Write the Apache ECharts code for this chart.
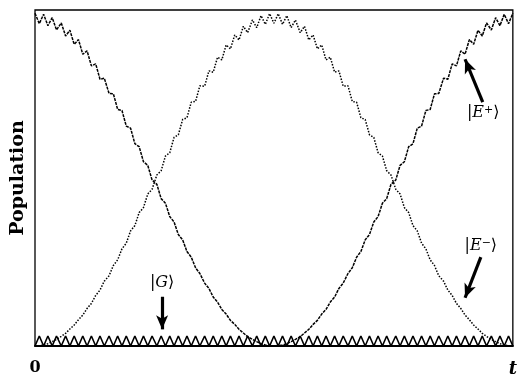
<!DOCTYPE html>
<html>
<head>
<meta charset="utf-8">
<script src="https://cdn.jsdelivr.net/npm/echarts@6/dist/echarts.min.js"></script>
<style>
html,body{margin:0;padding:0;background:#fff;}
#chart{width:520px;height:378px;}
</style>
</head>
<body>
<div id="chart"></div>
<script>
// time samples (fraction of total time)
const time = [0,0.009,0.018,0.027,0.036,0.045,0.055,0.064,0.073,0.082,0.091,0.1,0.109,0.118,0.127,0.136,0.145,0.155,0.164,0.173,0.182,0.191,0.2,0.209,0.218,0.227,0.236,0.245,0.255,0.264,0.273,0.282,0.291,0.3,0.309,0.318,0.327,0.336,0.345,0.355,0.364,0.373,0.382,0.391,0.4,0.409,0.418,0.427,0.436,0.445,0.455,0.464,0.473,0.482,0.491,0.5,0.509,0.518,0.527,0.536,0.545,0.555,0.564,0.573,0.582,0.591,0.6,0.609,0.618,0.627,0.636,0.645,0.655,0.664,0.673,0.682,0.691,0.7,0.709,0.718,0.727,0.736,0.745,0.755,0.764,0.773,0.782,0.791,0.8,0.809,0.818,0.827,0.836,0.845,0.855,0.864,0.873,0.882,0.891,0.9,0.909,0.918,0.927,0.936,0.945,0.955,0.964,0.973,0.982,0.991,1];

// |E+> population
const ePlus = [1.000,0.969,0.997,0.963,0.987,0.950,0.971,0.932,0.949,0.907,0.921,0.877,0.887,0.842,0.848,0.802,0.805,0.759,0.758,0.711,0.708,0.661,0.655,0.608,0.599,0.554,0.543,0.499,0.486,0.443,0.429,0.389,0.373,0.335,0.319,0.284,0.267,0.235,0.218,0.189,0.173,0.147,0.132,0.110,0.096,0.077,0.065,0.050,0.039,0.028,0.020,0.013,0.007,0.003,0.001,0,
0.001,0.003,0.007,0.013,0.020,0.028,0.039,0.050,0.065,0.077,0.096,0.110,0.132,0.147,0.173,0.189,0.218,0.235,0.267,0.284,0.319,0.335,0.373,0.389,0.429,0.443,0.486,0.499,0.543,0.554,0.599,0.608,0.655,0.661,0.708,0.711,0.758,0.759,0.805,0.802,0.848,0.842,0.887,0.877,0.921,0.907,0.949,0.932,0.971,0.950,0.987,0.963,0.997,0.969,1.000];

// |E-> population
const eMinus = [0,0.001,0.003,0.007,0.013,0.020,0.029,0.038,0.051,0.063,0.079,0.093,0.113,0.128,0.152,0.168,0.195,0.211,0.242,0.259,0.292,0.309,0.346,0.362,0.401,0.416,0.457,0.471,0.514,0.527,0.571,0.581,0.627,0.635,0.681,0.686,0.733,0.735,0.782,0.781,0.827,0.823,0.868,0.860,0.905,0.893,0.935,0.920,0.961,0.942,0.980,0.957,0.993,0.967,0.999,0.970,
0.999,0.967,0.993,0.957,0.980,0.942,0.961,0.920,0.935,0.893,0.905,0.860,0.868,0.823,0.827,0.781,0.782,0.735,0.733,0.686,0.681,0.635,0.627,0.581,0.571,0.527,0.514,0.471,0.457,0.416,0.401,0.362,0.346,0.309,0.292,0.259,0.242,0.211,0.195,0.168,0.152,0.128,0.113,0.093,0.079,0.063,0.051,0.038,0.029,0.020,0.013,0.007,0.003,0.001,0];

// |G> population
const gPop = [0,0.03,0,0.03,0,0.03,0,0.03,0,0.03,0,0.03,0,0.03,0,0.03,0,0.03,0,0.03,0,0.03,0,0.03,0,0.03,0,0.03,0,0.03,0,0.03,0,0.03,0,0.03,0,0.03,0,0.03,0,0.03,0,0.03,0,0.03,0,0.03,0,0.03,0,0.03,0,0.03,0,0.03,0,0.03,0,0.03,0,0.03,0,0.03,0,0.03,0,0.03,0,0.03,0,0.03,0,0.03,0,0.03,0,0.03,0,0.03,0,0.03,0,0.03,0,0.03,0,0.03,0,0.03,0,0.03,0,0.03,0,0.03,0,0.03,0,0.03,0,0.03,0,0.03,0,0.03,0,0.03,0,0.03,0];

// annotation labels and arrows (data coordinates)
const labels = [
  {key:'G', text:'{n||}{i|G}{n|⟩}', at:[0.266, 0.19]},
  {key:'E+', text:'{n||}{i|E}{s|+}{n|⟩}', at:[0.938, 0.70]},
  {key:'E-', text:'{n||}{i|E}{s|−}{n|⟩}', at:[0.933, 0.30]}
];
const arrows = [
  [[0.266, 0.148], [0.266, 0.05]],
  [[0.937, 0.733], [0.900, 0.862]],
  [[0.933, 0.267], [0.900, 0.145]]
];

const zip = (vals) => time.map((t, i) => [t, vals[i]]);
const serif = '"DejaVu Serif", "Liberation Serif", serif';

const chart = echarts.init(document.getElementById('chart'), null, {renderer:'canvas'});
chart.setOption({
  animation: false,
  backgroundColor: '#fff',
  grid: {left: 35, right: 4, top: 10, bottom: 31, show: true, borderColor: '#000', borderWidth: 1.3, backgroundColor: 'transparent'},
  xAxis: {
    type: 'value', min: 0, max: 1, interval: 1,
    axisLine: {show: true, lineStyle: {color: '#000', width: 2}},
    axisTick: {show: false},
    splitLine: {show: false},
    axisLabel: {
      margin: 14, color: '#000', fontFamily: serif, fontWeight: 'bold', fontSize: 16,
      formatter: v => v === 0 ? '0' : '{t|t}',
      rich: {t: {fontStyle: 'italic', fontWeight: 'bold', fontFamily: serif, fontSize: 18, color: '#000'}}
    }
  },
  yAxis: {
    type: 'value', min: 0, max: 1.01,
    name: 'Population', nameLocation: 'middle', nameGap: 7,
    nameTextStyle: {fontFamily: serif, fontWeight: 'bold', fontSize: 19, color: '#000'},
    axisLine: {show: false}, axisTick: {show: false}, axisLabel: {show: false}, splitLine: {show: false}
  },
  series: [
    {
      name: 'E+', type: 'line', data: zip(ePlus), symbol: 'none', smooth: false,
      lineStyle: {color: '#000', width: 1.5, type: [3, 1]}
    },
    {
      name: 'E-', type: 'line', data: zip(eMinus), symbol: 'none', smooth: false,
      lineStyle: {color: '#000', width: 1.5, type: [1.5, 1.5]}
    },
    {
      name: 'G', type: 'line', data: zip(gPop), symbol: 'none', smooth: false,
      lineStyle: {color: '#000', width: 1.6},
      markLine: {
        silent: true, animation: false,
        symbol: ['none', 'arrow'], symbolSize: [9, 14],
        lineStyle: {color: '#000', width: 3.2, type: 'solid'},
        label: {show: false},
        data: arrows.map(a => [{coord: a[0]}, {coord: a[1]}])
      }
    }
  ]
});

const rich = {
  n: {fontFamily: serif, fontSize: 16, color: '#000'},
  i: {fontFamily: serif, fontStyle: 'italic', fontSize: 16, color: '#000'},
  s: {fontFamily: serif, fontSize: 11, color: '#000', verticalAlign: 'top', padding: [0, 0, 6, 0]}
};
chart.setOption({
  graphic: labels.map(l => {
    const p = chart.convertToPixel({gridIndex: 0}, l.at);
    return {type: 'text', x: p[0], y: p[1], style: {text: l.text, rich: rich, align: 'center', verticalAlign: 'middle'}};
  })
});
</script>
</body>
</html>
